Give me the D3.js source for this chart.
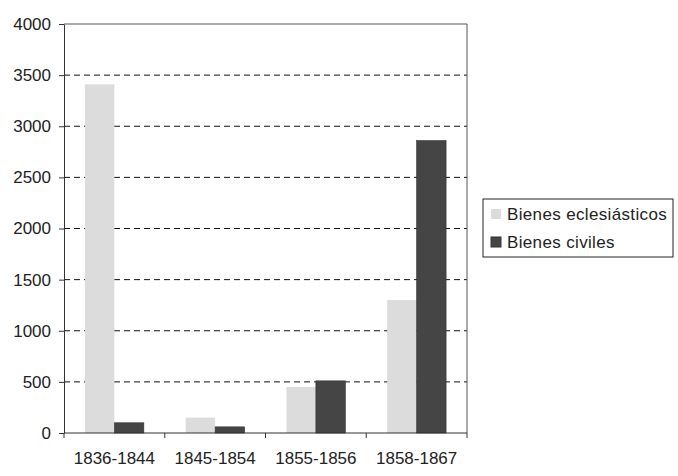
<!DOCTYPE html>
<html>
<head>
<meta charset="utf-8">
<script src="https://cdn.jsdelivr.net/npm/d3@7"></script>
<style>
  body { margin: 0; background: #fff; }
  text { font-family: "Liberation Sans", Arial, sans-serif; fill: #222; }
</style>
</head>
<body>
<svg id="chart" width="678" height="476"></svg>
<script>
const categories = ['1836-1844', '1845-1854', '1855-1856', '1858-1867'];
const seriesNames = ['Bienes eclesiásticos', 'Bienes civiles'];
const eclesiasticos = [3410, 150, 450, 1300];
const civiles = [100, 60, 510, 2860];
const yTicks = [0, 500, 1000, 1500, 2000, 2500, 3000, 3500, 4000];
const colors = ['#dcdcdc', '#454545'];

const svg = d3.select('#chart');
const margin = { top: 24, left: 64 };
const width = 403, height = 409;
const g = svg.append('g').attr('transform', `translate(${margin.left},${margin.top})`);

const x0 = d3.scaleBand().domain(categories).range([0, width]);
const x1 = d3.scaleBand().domain(seriesNames).range([0, x0.bandwidth()]).paddingOuter(0.71);
const y = d3.scaleLinear().domain([0, 4000]).range([height, 0]);

// gridlines
g.append('g').selectAll('line')
  .data(yTicks.filter(d => d > 0 && d < 4000))
  .join('line')
  .attr('x1', 0).attr('x2', width)
  .attr('y1', d => y(d)).attr('y2', d => y(d))
  .attr('stroke', '#111')
  .attr('stroke-dasharray', '6,4');

// plot border (top/right)
g.append('path')
  .attr('d', `M0,0H${width}V${height}`)
  .attr('fill', 'none')
  .attr('stroke', '#555');

const rows = categories.map((c, i) => ({ cat: c, vals: [eclesiasticos[i], civiles[i]] }));

g.append('g').selectAll('g')
  .data(rows)
  .join('g')
  .attr('transform', d => `translate(${x0(d.cat)},0)`)
  .selectAll('rect')
  .data(d => d.vals.map((v, i) => ({ name: seriesNames[i], v, i })))
  .join('rect')
  .attr('x', d => x1(d.name))
  .attr('width', x1.bandwidth())
  .attr('y', d => y(d.v))
  .attr('height', d => height - y(d.v))
  .attr('fill', d => colors[d.i])
  .attr('stroke', d => d.i === 1 ? '#333' : 'none')
  .attr('stroke-width', 0.6);

// y axis
const yAxis = g.append('g')
  .call(d3.axisLeft(y).tickValues(yTicks).tickFormat(d3.format('d'))
    .tickSize(5).tickSizeOuter(0).tickPadding(8));
yAxis.select('.domain').attr('stroke', '#333');
yAxis.selectAll('.tick line').attr('stroke', '#333');
yAxis.selectAll('text').attr('font-size', 17).attr('fill', '#222');

// x axis: ticks at band boundaries
const xAxisG = g.append('g').attr('transform', `translate(0,${height})`);
xAxisG.append('line').attr('x1', 0).attr('x2', width).attr('stroke', '#333');
xAxisG.selectAll('.xt')
  .data(categories)
  .join('line')
  .attr('class', 'xt')
  .attr('x1', d => x0(d)).attr('x2', d => x0(d))
  .attr('y1', 0).attr('y2', 5)
  .attr('stroke', '#333');
xAxisG.append('line')
  .attr('x1', width).attr('x2', width).attr('y1', 0).attr('y2', 5)
  .attr('stroke', '#333');
xAxisG.selectAll('.xl')
  .data(categories)
  .join('text')
  .attr('class', 'xl')
  .attr('x', d => x0(d) + x0.bandwidth() / 2)
  .attr('y', 31)
  .attr('text-anchor', 'middle')
  .attr('font-size', 17)
  .text(d => d);

// legend
const legend = svg.append('g').attr('transform', 'translate(483,199)');
legend.append('rect')
  .attr('width', 190).attr('height', 58)
  .attr('fill', '#fff').attr('stroke', '#222');
const items = legend.selectAll('g.item')
  .data(seriesNames)
  .join('g')
  .attr('class', 'item')
  .attr('transform', (d, i) => `translate(8,${15 + i * 28})`);
items.append('rect')
  .attr('x', 0).attr('y', -5).attr('width', 10).attr('height', 10)
  .attr('fill', (d, i) => colors[i])
  .attr('stroke', (d, i) => i === 1 ? '#333' : 'none');
items.append('text')
  .attr('x', 16).attr('y', 6)
  .attr('font-size', 17)
  .attr('letter-spacing', 0.35)
  .text(d => d);
</script>
</body>
</html>
